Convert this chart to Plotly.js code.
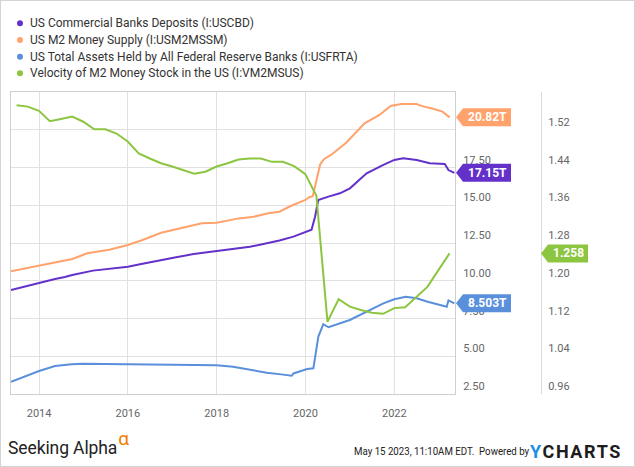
<!DOCTYPE html>
<html>
<head>
<meta charset="utf-8">
<script src="https://cdn.plot.ly/plotly-3.0.1.min.js"></script>
<style>
  html, body { margin: 0; padding: 0; background: #fff; }
  #wrap { position: relative; width: 635px; height: 467px; overflow: hidden; }
  #chart { position: absolute; left: 0; top: 0; width: 635px; height: 467px; }
  #frame { position: absolute; left: 0; top: 0; width: 633px; height: 465px; border: 1px solid #d4d4d4; pointer-events: none; }
  .foot { position: absolute; font-family: Roboto, "Open Sans", sans-serif; white-space: nowrap; }
  #sa { left: 8px; top: 436px; font-size: 17.5px; color: #222; letter-spacing: -0.1px; }
  #sa span { color: #f57c00; font-size: 19px; position: relative; top: -9px; margin-left: 1px; }
  #stamp { left: 354px; top: 445px; font-size: 11px; color: #222; transform: scaleX(0.88); transform-origin: left center; }
  #yc { left: 530px; top: 441px; font-size: 18px; font-weight: 700; color: #1d1d1d; letter-spacing: 1.6px; }
  #yc span { color: #1e8fe6; }
</style>
</head>
<body>
<div id="wrap">
  <div id="chart"></div>
  <div class="foot" id="sa">Seeking Alpha<span>α</span></div>
  <div class="foot" id="stamp">May 15 2023, 11:10AM EDT.&nbsp; Powered by</div>
  <div class="foot" id="yc"><span>Y</span>CHARTS</div>
  <div id="frame"></div>
</div>
<script>
// ---------------- DATA ----------------
const seriesNames = [
  "US Commercial Banks Deposits (I:USCBD)",
  "US M2 Money Supply (I:USM2MSSM)",
  "US Total Assets Held by All Federal Reserve Banks (I:USFRTA)",
  "Velocity of M2 Money Stock in the US (I:VM2MSUS)"
];

// US Commercial Banks Deposits, trillions USD
const depositDates = ["2013-05-15","2013-09-01","2014-01-01","2014-05-12","2014-08-01","2014-10-01","2015-03-20","2015-08-01","2016-01-01","2016-05-01","2016-09-25","2017-02-01","2017-06-25","2018-01-01","2018-05-01","2018-10-01","2019-02-17","2019-06-01","2019-09-24","2019-12-20","2020-02-20","2020-03-20","2020-04-15","2020-07-08","2020-10-10","2021-01-01","2021-05-18","2021-10-03","2022-01-01","2022-03-15","2022-07-04","2022-10-20","2023-02-20","2023-03-22","2023-05-10"];
const depositValues = [9.39,9.62,9.83,10.12,10.25,10.38,10.67,10.80,10.93,11.12,11.37,11.55,11.77,11.97,12.08,12.25,12.48,12.66,12.92,13.21,13.38,14.24,15.35,15.57,15.79,16.12,17.12,17.67,18.00,18.11,18.00,17.78,17.73,17.33,17.15];

// US M2 Money Supply, trillions USD
const m2Dates = ["2013-05-01","2013-09-01","2014-01-01","2014-06-01","2014-10-01","2015-02-01","2015-08-01","2016-01-01","2016-05-01","2016-10-01","2017-04-01","2017-09-01","2018-01-01","2018-07-01","2018-11-01","2019-03-01","2019-06-01","2019-09-01","2020-01-01","2020-02-01","2020-03-01","2020-04-01","2020-05-01","2020-06-01","2020-08-01","2020-12-01","2021-05-01","2021-09-01","2021-12-01","2022-03-01","2022-07-01","2022-09-01","2022-11-01","2023-02-01","2023-04-01"];
const m2Values = [10.60,10.80,11.00,11.25,11.44,11.82,12.05,12.37,12.70,13.18,13.54,13.80,13.84,14.13,14.24,14.47,14.57,14.95,15.35,15.53,15.60,16.70,17.70,18.05,18.35,19.14,20.43,20.98,21.57,21.70,21.70,21.53,21.42,21.20,20.82];

// Fed total assets, trillions USD
const fedDates = ["2013-05-15","2013-09-01","2014-01-01","2014-05-12","2014-09-26","2014-12-27","2015-08-01","2016-01-01","2017-01-01","2018-01-01","2018-05-15","2018-09-15","2019-02-17","2019-06-15","2019-09-10","2019-09-24","2019-11-17","2020-01-15","2020-03-06","2020-03-20","2020-04-16","2020-05-27","2020-07-08","2020-12-31","2021-05-18","2021-10-03","2022-01-01","2022-04-05","2022-07-04","2022-10-02","2023-03-08","2023-03-22","2023-05-10"];
const fedValues = [3.31,3.65,4.02,4.35,4.47,4.50,4.49,4.47,4.45,4.40,4.31,4.12,3.91,3.80,3.71,3.86,4.02,4.15,4.20,4.97,6.30,7.12,6.92,7.40,7.95,8.50,8.77,8.94,8.84,8.61,8.28,8.70,8.503];

// Velocity of M2 (quarterly)
const velDates = ["2013-06-30","2013-09-30","2013-12-31","2014-03-31","2014-06-30","2014-09-30","2014-12-31","2015-03-31","2015-06-30","2015-09-30","2015-12-31","2016-03-31","2016-06-30","2016-09-30","2016-12-31","2017-03-31","2017-06-30","2017-09-30","2017-12-31","2018-03-31","2018-06-30","2018-09-30","2018-12-31","2019-03-31","2019-06-30","2019-09-30","2019-12-31","2020-03-31","2020-06-30","2020-09-30","2020-12-31","2021-03-31","2021-06-30","2021-09-30","2021-12-31","2022-03-31","2022-06-30","2022-09-30","2022-12-31","2023-03-31"];
const velValues = [1.572,1.569,1.560,1.538,1.543,1.548,1.537,1.521,1.521,1.512,1.495,1.470,1.459,1.449,1.442,1.435,1.427,1.431,1.442,1.449,1.457,1.459,1.459,1.452,1.452,1.443,1.426,1.380,1.113,1.161,1.145,1.138,1.132,1.130,1.142,1.144,1.166,1.187,1.223,1.258];

// Axis ticks
const tTicks = [2.5,5,7.5,10,12.5,15,17.5,20];
const vTicks = [0.96,1.04,1.12,1.20,1.28,1.36,1.44,1.52];
const xRange = ["2013-05-15","2023-05-15"];
const tRange = [2.5,22.5];
const vRange = [0.96,1.60];

const colors = ["#6331c9","#ffa26b","#5a8fdc","#8cc540"];

// ---------------- LAYOUT ----------------
const W = 635, H = 467;
const M = {l: 11, r: 11, t: 92, b: 73};
const PW = W - M.l - M.r, PH = H - M.t - M.b;
const plotRightPx = 455;
const xPaper = px => (px - M.l) / PW;
const yPaper = py => (H - M.b - py) / PH;
const font = "Roboto, 'Open Sans', sans-serif";

const traces = [
  {x: depositDates, y: depositValues, yaxis: "y", color: colors[0]},
  {x: m2Dates, y: m2Values, yaxis: "y", color: colors[1]},
  {x: fedDates, y: fedValues, yaxis: "y", color: colors[2]},
  {x: velDates, y: velValues, yaxis: "y2", color: colors[3]}
].map(s => ({
  type: "scatter", mode: "lines", x: s.x, y: s.y, yaxis: s.yaxis,
  line: {color: s.color, width: 2}, showlegend: false, hoverinfo: "skip"
}));

const shapes = [];
const annotations = [];

// legend (circle + text)
const legendRows = [23.3, 40, 56.7, 73.3];
seriesNames.forEach((name, i) => {
  const cy = legendRows[i];
  shapes.push({type: "circle", xref: "paper", yref: "paper",
    x0: xPaper(17), x1: xPaper(23), y0: yPaper(cy + 3), y1: yPaper(cy - 3),
    fillcolor: colors[i], line: {width: 0}});
  annotations.push({xref: "paper", yref: "paper", x: xPaper(28), y: yPaper(cy),
    xanchor: "left", yanchor: "middle", showarrow: false, text: name,
    font: {family: font, size: 12, color: "#333"}});
});

// value tags at the last data point
function addTag(values, axis, range, tipPx, rightPx, color) {
  const v = values[values.length - 1];
  const unitsPerPx = (range[1] - range[0]) / PH;
  const h = 9 * unitsPerPx;
  const xt = xPaper(tipPx), xb = xPaper(tipPx + 7), xr = xPaper(rightPx);
  shapes.push({type: "path", xref: "paper", yref: axis, layer: "above",
    path: `M ${xt},${v} L ${xb},${v + h} L ${xr},${v + h} L ${xr},${v - h} L ${xb},${v - h} Z`,
    fillcolor: color, line: {width: 0}});
  const label = (axis === "y") ? v.toPrecision(4) + "T" : v.toPrecision(4);
  annotations.push({xref: "paper", yref: axis, x: xPaper((tipPx + 7 + rightPx) / 2 + 0.5), y: v,
    xanchor: "center", yanchor: "middle", showarrow: false, text: "<b>" + label + "</b>",
    font: {family: font, size: 12, color: "#ffffff"}});
}
addTag(m2Values, "y", tRange, 456, 511, colors[1]);
addTag(depositValues, "y", tRange, 456, 511, colors[0]);
addTag(fedValues, "y", tRange, 456, 511, colors[2]);
addTag(velValues, "y2", vRange, 541, 588, colors[3]);

const layout = {
  width: W, height: H,
  margin: M,
  paper_bgcolor: "#ffffff", plot_bgcolor: "#ffffff",
  showlegend: false,
  font: {family: font, size: 11, color: "#666"},
  xaxis: {
    type: "date", range: xRange, domain: [0, xPaper(plotRightPx)],
    tick0: "2014-01-01", dtick: "M24", tickformat: "%Y",
    showgrid: true, gridcolor: "#e1e1e1", gridwidth: 1,
    showline: true, linecolor: "#cfcfcf", linewidth: 1, mirror: true,
    ticks: "", ticklabelstandoff: 9,
    tickfont: {family: font, size: 11, color: "#666"}, zeroline: false
  },
  yaxis: {
    range: tRange, side: "right", anchor: "x",
    tickmode: "array", tickvals: tTicks, tickformat: ".2f", ticksuffix: "T",
    ticklabelposition: "outside top", ticklabelstandoff: 5,
    showgrid: true, gridcolor: "#e1e1e1", gridwidth: 1,
    showline: true, linecolor: "#cfcfcf", linewidth: 1, mirror: true,
    ticks: "", zeroline: false,
    tickfont: {family: font, size: 11, color: "#666"}
  },
  yaxis2: {
    range: vRange, overlaying: "y", side: "right", anchor: "free",
    position: xPaper(541),
    tickmode: "array", tickvals: vTicks, tickformat: ".2f",
    ticklabelposition: "outside top", ticklabelstandoff: 4,
    showgrid: false, showline: true, linecolor: "#dadada", linewidth: 1,
    ticks: "", zeroline: false,
    tickfont: {family: font, size: 11, color: "#666"}
  },
  shapes: shapes,
  annotations: annotations
};

Plotly.newPlot("chart", traces, layout, {displayModeBar: false, staticPlot: true});
</script>
</body>
</html>
